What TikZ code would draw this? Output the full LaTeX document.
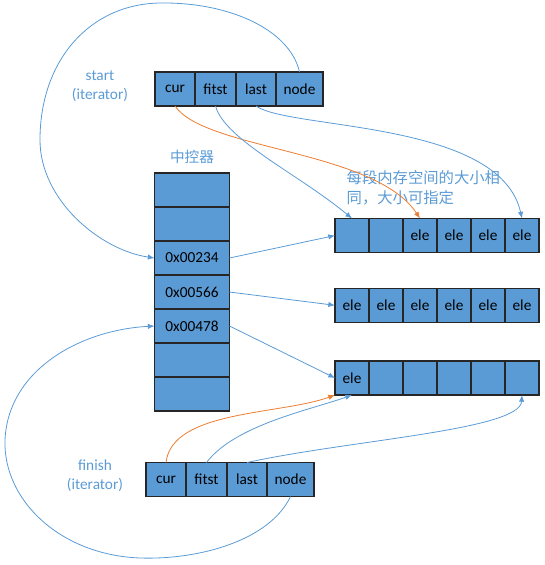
\documentclass[tikz,border=0pt]{standalone}
\usepackage{fontspec}
\setmainfont{Carlito}
\newfontfamily\cjkfont{Noto Sans CJK SC}
\usetikzlibrary{positioning,arrows.meta}
\definecolor{cellfill}{HTML}{5B9BD5}
\definecolor{cellline}{HTML}{262626}
\definecolor{linkblue}{HTML}{5B9BD5}
\definecolor{linkorange}{HTML}{ED7D31}
\tikzset{
  cell/.style={draw=cellline, fill=cellfill, line width=0.9pt, inner sep=0pt,
    outer sep=0pt, minimum height=25.5pt, font=\fontsize{11.5}{13}\selectfont},
  link/.style={draw=linkblue, line width=0.6pt, -{Latex[length=5pt,width=4pt]}},
  olink/.style={link, draw=linkorange},
  tag/.style={text=linkblue, align=center, font=\fontsize{11.5}{14.2}\selectfont}
}
\begin{document}
\begin{tikzpicture}[x=0.75pt,y=-0.75pt]
    \useasboundingbox (0,0) rectangle (544,565);
    % start iterator
    \node[cell, minimum width=30pt] (scur) at (175,89) {cur};
    \node[cell, minimum width=30.75pt, right=0pt of scur] (sfit) {fitst};
    \node[cell, minimum width=30pt, right=0pt of sfit] (slast) {last};
    \node[cell, minimum width=35.25pt, right=0pt of slast] (snode) {node};
    \node[tag] (stag) at (100,86) {start\\(iterator)};
    % map
    \node[tag, font=\cjkfont\fontsize{11}{14}\selectfont] (ctltag) at (192,157) {中控器};
    \foreach \i/\t in {0/{},1/{},2/0x00234,3/0x00566,4/0x00478,5/{},6/{}} {
      \node[cell, minimum width=56.25pt] (ctl\i) at (192,{190+34*\i}) {\t};
    }
    % buffers
    \foreach \j/\t in {0/{},1/{},2/ele,3/ele,4/ele,5/ele} {
      \node[cell, minimum width=25.5pt] (bufa\j) at ({352+34*\j},235.5) {\t};
    }
    \foreach \j in {0,...,5} {
      \node[cell, minimum width=25.5pt] (bufb\j) at ({352+34*\j},305.3) {ele};
    }
    \foreach \j/\t in {0/ele,1/{},2/{},3/{},4/{},5/{}} {
      \node[cell, minimum width=25.5pt] (bufc\j) at ({352+34*\j},378) {\t};
    }
    \node[tag, anchor=north west, align=left,
      font=\cjkfont\fontsize{11.5}{15}\selectfont] (note) at (342,166)
      {每段内存空间的大小相\\同，大小可指定};
    % finish iterator
    \node[cell, minimum width=30pt] (fcur) at (166,479.5) {cur};
    \node[cell, minimum width=30.75pt, right=0pt of fcur] (ffit) {fitst};
    \node[cell, minimum width=30pt, right=0pt of ffit] (flast) {last};
    \node[cell, minimum width=35.25pt, right=0pt of flast] (fnode) {node};
    \node[tag] (ftag) at (95,476) {finish\\(iterator)};
    % start links
    \draw[link] (snode.north) .. controls (290,30) and (230,2) .. (160,3)
      .. controls (90,4) and (40,60) .. (40,140)
      .. controls (40,200) and (100,250) .. (ctl2.west);
    \draw[olink] (scur.south) .. controls (205,150) and (375,150) .. (bufa2.north);
    \draw[link] (sfit.south) .. controls (225,140) and (300,175) .. (bufa0.north);
    \draw[link] (slast.south) .. controls (290,130) and (500,120) .. (bufa5.north);
    % map links
    \draw[link] (ctl2.east) -- (bufa0.west);
    \draw[link] (ctl3.east) -- (bufb0.west);
    \draw[link] (ctl4.east) -- (bufc0.west);
    % finish links
    \draw[link] (fnode.south) .. controls (270,540) and (200,560) .. (140,558)
      .. controls (60,555) and (3,500) .. (5,440)
      .. controls (8,370) and (80,330) .. (ctl4.west);
    \draw[olink] (fcur.north) .. controls (172,410) and (280,415) .. (bufc0.south west);
    \draw[link] (ffit.north) .. controls (235,425) and (310,410) .. (bufc0.south);
    \draw[link] (flast.north) .. controls (350,440) and (520,430) .. (bufc5.south);
  \end{tikzpicture}
\end{document}
